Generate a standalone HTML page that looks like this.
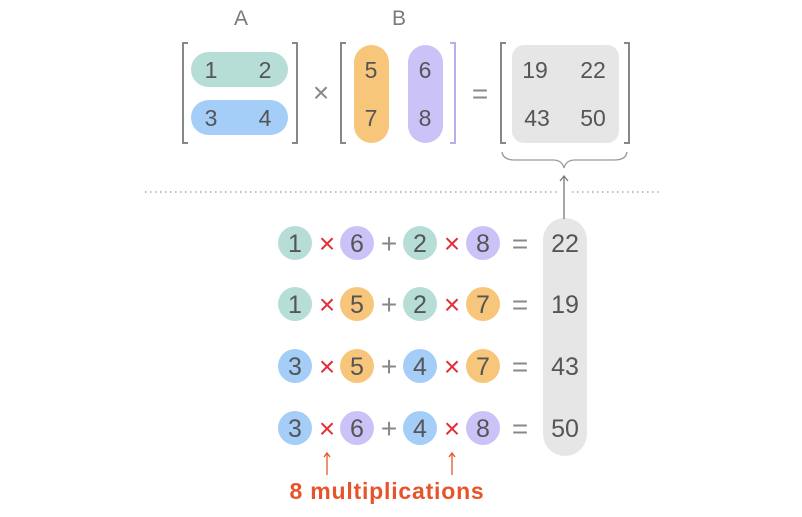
<!DOCTYPE html>
<html><head><meta charset="utf-8"><style>
html,body{margin:0;padding:0;background:#fff;}
</style></head><body>
<svg width="802" height="512" viewBox="0 0 802 512" xmlns="http://www.w3.org/2000/svg" font-family="Liberation Sans, DejaVu Sans, sans-serif">
<g fill="#7a7a7a" font-size="21" text-anchor="middle">
<text x="241" y="25">A</text><text x="399" y="25">B</text>
</g>
<g fill="none" stroke="#888" stroke-width="2">
<path d="M188,43 H183 V143 H188"/><path d="M292,43 H297 V143 H292"/>
<path d="M346,43 H341 V143 H346"/>
<path d="M506,43 H501 V143 H506"/><path d="M624,43 H629 V143 H624"/>
</g>
<path d="M450,43 H455 V143 H450" fill="none" stroke="#b9aee8" stroke-width="2"/>
<rect x="191" y="52" width="97" height="35" rx="17.5" fill="#b7ddd7"/>
<rect x="191" y="100" width="97" height="35" rx="17.5" fill="#a4cdf8"/>
<rect x="354" y="45" width="35" height="98" rx="17.5" fill="#f8c67a"/>
<rect x="408" y="45" width="35" height="98" rx="17.5" fill="#cbc3f8"/>
<rect x="512" y="45" width="107" height="98" rx="12" fill="#e6e6e6"/>
<g fill="#555" font-size="23" text-anchor="middle">
<text x="211" y="78">1</text><text x="265" y="78">2</text>
<text x="211" y="126">3</text><text x="265" y="126">4</text>
<text x="371" y="78">5</text><text x="425" y="78">6</text>
<text x="371" y="126">7</text><text x="425" y="126">8</text>
<text x="535" y="78">19</text><text x="593" y="78">22</text>
<text x="537" y="126">43</text><text x="593" y="126">50</text>
</g>
<g fill="#888" font-size="28" text-anchor="middle">
<text x="321" y="102">×</text><text x="480" y="103">=</text>
</g>
<path d="M502,152 Q503,160 515,160 H553 Q562,160 564,168 Q566,160 575,160 H614 Q626,160 627,152" fill="none" stroke="#999" stroke-width="1.3"/>
<line x1="145" y1="192" x2="557" y2="192" stroke="#aaa" stroke-width="1.5" stroke-dasharray="1.5,3.5"/>
<line x1="572" y1="192" x2="662" y2="192" stroke="#aaa" stroke-width="1.5" stroke-dasharray="1.5,3.5"/>
<rect x="543" y="218" width="44" height="238" rx="22" fill="#e6e6e6"/>
<g stroke="#777" stroke-width="1.3" fill="none">
<line x1="564" y1="219" x2="564" y2="176"/><path d="M560,181 L564,176 L568,181"/>
</g>
<g text-anchor="middle">
<g>
<circle cx="295" cy="243" r="17" fill="#b7ddd7"/><circle cx="357" cy="243" r="17" fill="#cbc3f8"/>
<circle cx="420" cy="243" r="17" fill="#b7ddd7"/><circle cx="483" cy="243" r="17" fill="#cbc3f8"/>
<circle cx="295" cy="304" r="17" fill="#b7ddd7"/><circle cx="357" cy="304" r="17" fill="#f8c67a"/>
<circle cx="420" cy="304" r="17" fill="#b7ddd7"/><circle cx="483" cy="304" r="17" fill="#f8c67a"/>
<circle cx="295" cy="366" r="17" fill="#a4cdf8"/><circle cx="357" cy="366" r="17" fill="#f8c67a"/>
<circle cx="420" cy="366" r="17" fill="#a4cdf8"/><circle cx="483" cy="366" r="17" fill="#f8c67a"/>
<circle cx="295" cy="428" r="17" fill="#a4cdf8"/><circle cx="357" cy="428" r="17" fill="#cbc3f8"/>
<circle cx="420" cy="428" r="17" fill="#a4cdf8"/><circle cx="483" cy="428" r="17" fill="#cbc3f8"/>
</g>
<g fill="#555" font-size="25">
<text x="295" y="252">1</text><text x="357" y="252">6</text><text x="420" y="252">2</text><text x="483" y="252">8</text><text x="565" y="252">22</text>
<text x="295" y="313">1</text><text x="357" y="313">5</text><text x="420" y="313">2</text><text x="483" y="313">7</text><text x="565" y="313">19</text>
<text x="295" y="375">3</text><text x="357" y="375">5</text><text x="420" y="375">4</text><text x="483" y="375">7</text><text x="565" y="375">43</text>
<text x="295" y="437">3</text><text x="357" y="437">6</text><text x="420" y="437">4</text><text x="483" y="437">8</text><text x="565" y="437">50</text>
</g>
<g fill="#e0303a" font-size="28">
<text x="327" y="253">×</text><text x="452" y="253">×</text>
<text x="327" y="314">×</text><text x="452" y="314">×</text>
<text x="327" y="376">×</text><text x="452" y="376">×</text>
<text x="327" y="438">×</text><text x="452" y="438">×</text>
</g>
<g fill="#888" font-size="28">
<text x="389" y="253">+</text><text x="520" y="253">=</text>
<text x="389" y="314">+</text><text x="520" y="314">=</text>
<text x="389" y="376">+</text><text x="520" y="376">=</text>
<text x="389" y="438">+</text><text x="520" y="438">=</text>
</g>
</g>
<g stroke="#e8542a" stroke-width="1.3" fill="none">
<line x1="327" y1="475" x2="327" y2="453"/><path d="M324,457 L327,453 L330,457"/>
<line x1="452" y1="475" x2="452" y2="453"/><path d="M449,457 L452,453 L455,457"/>
</g>
<text x="387" y="499" fill="#e8542a" font-size="23" font-weight="bold" letter-spacing="0.8" text-anchor="middle">8 multiplications</text>
</svg>
</body></html>
